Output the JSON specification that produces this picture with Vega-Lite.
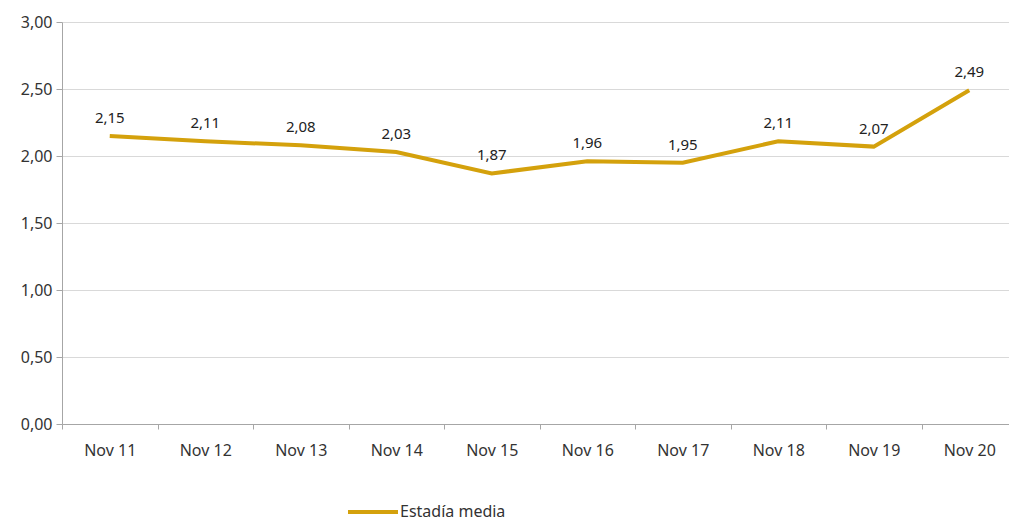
{
  "$schema": "https://vega.github.io/schema/vega-lite/v6.json",
  "autosize": "none",
  "padding": {"left": 62, "top": 22, "right": 0, "bottom": 98},
  "width": 955,
  "height": 402,
  "background": "white",
  "config": {
    "locale": {"number": {"decimal": ",", "thousands": ".", "grouping": [3], "currency": ["", " €"]}},
    "view": {"stroke": null},
    "font": "Noto Sans"
  },
  "data": {
    "values": [
      {"mes": "Nov 11", "valor": 2.15, "serie": "Estadía media"},
      {"mes": "Nov 12", "valor": 2.11, "serie": "Estadía media"},
      {"mes": "Nov 13", "valor": 2.08, "serie": "Estadía media"},
      {"mes": "Nov 14", "valor": 2.03, "serie": "Estadía media"},
      {"mes": "Nov 15", "valor": 1.87, "serie": "Estadía media"},
      {"mes": "Nov 16", "valor": 1.96, "serie": "Estadía media"},
      {"mes": "Nov 17", "valor": 1.95, "serie": "Estadía media"},
      {"mes": "Nov 18", "valor": 2.11, "serie": "Estadía media"},
      {"mes": "Nov 19", "valor": 2.07, "serie": "Estadía media"},
      {"mes": "Nov 20", "valor": 2.49, "serie": "Estadía media"}
    ]
  },
  "encoding": {
    "x": {
      "field": "mes", "type": "ordinal", "sort": null,
      "scale": {"paddingInner": 0, "paddingOuter": 0, "align": 0},
      "axis": {
        "title": null, "labelAngle": 0, "labelFontSize": 16, "labelColor": "#333333",
        "labelPadding": 13, "tickSize": 5, "tickColor": "#A6A6A6", "domainColor": "#A6A6A6",
        "tickBand": "extent", "grid": false
      }
    },
    "y": {
      "field": "valor", "type": "quantitative",
      "scale": {"domain": [0, 3], "nice": false},
      "axis": {
        "title": null, "format": ".2f", "values": [0, 0.5, 1, 1.5, 2, 2.5, 3],
        "labelFontSize": 16, "labelColor": "#333333", "labelPadding": 4,
        "tickSize": 6, "tickColor": "#A6A6A6", "domainColor": "#A6A6A6",
        "gridColor": "#D9D9D9", "gridWidth": 1
      }
    }
  },
  "layer": [
    {
      "mark": {"type": "line", "strokeWidth": 4},
      "encoding": {
        "color": {
          "field": "serie", "type": "nominal",
          "scale": {"range": ["#D4A10C"]},
          "legend": {
            "title": null, "orient": "none", "legendX": 284, "legendY": 463,
            "symbolType": "stroke", "symbolSize": 2500, "symbolStrokeWidth": 4,
            "labelFontSize": 16, "labelColor": "#333333", "labelOffset": 0
          }
        }
      }
    },
    {
      "mark": {"type": "text", "dy": -18, "fontSize": 15, "color": "#222222"},
      "encoding": {
        "text": {"field": "valor", "type": "quantitative", "format": ".2f"}
      }
    }
  ]
}
